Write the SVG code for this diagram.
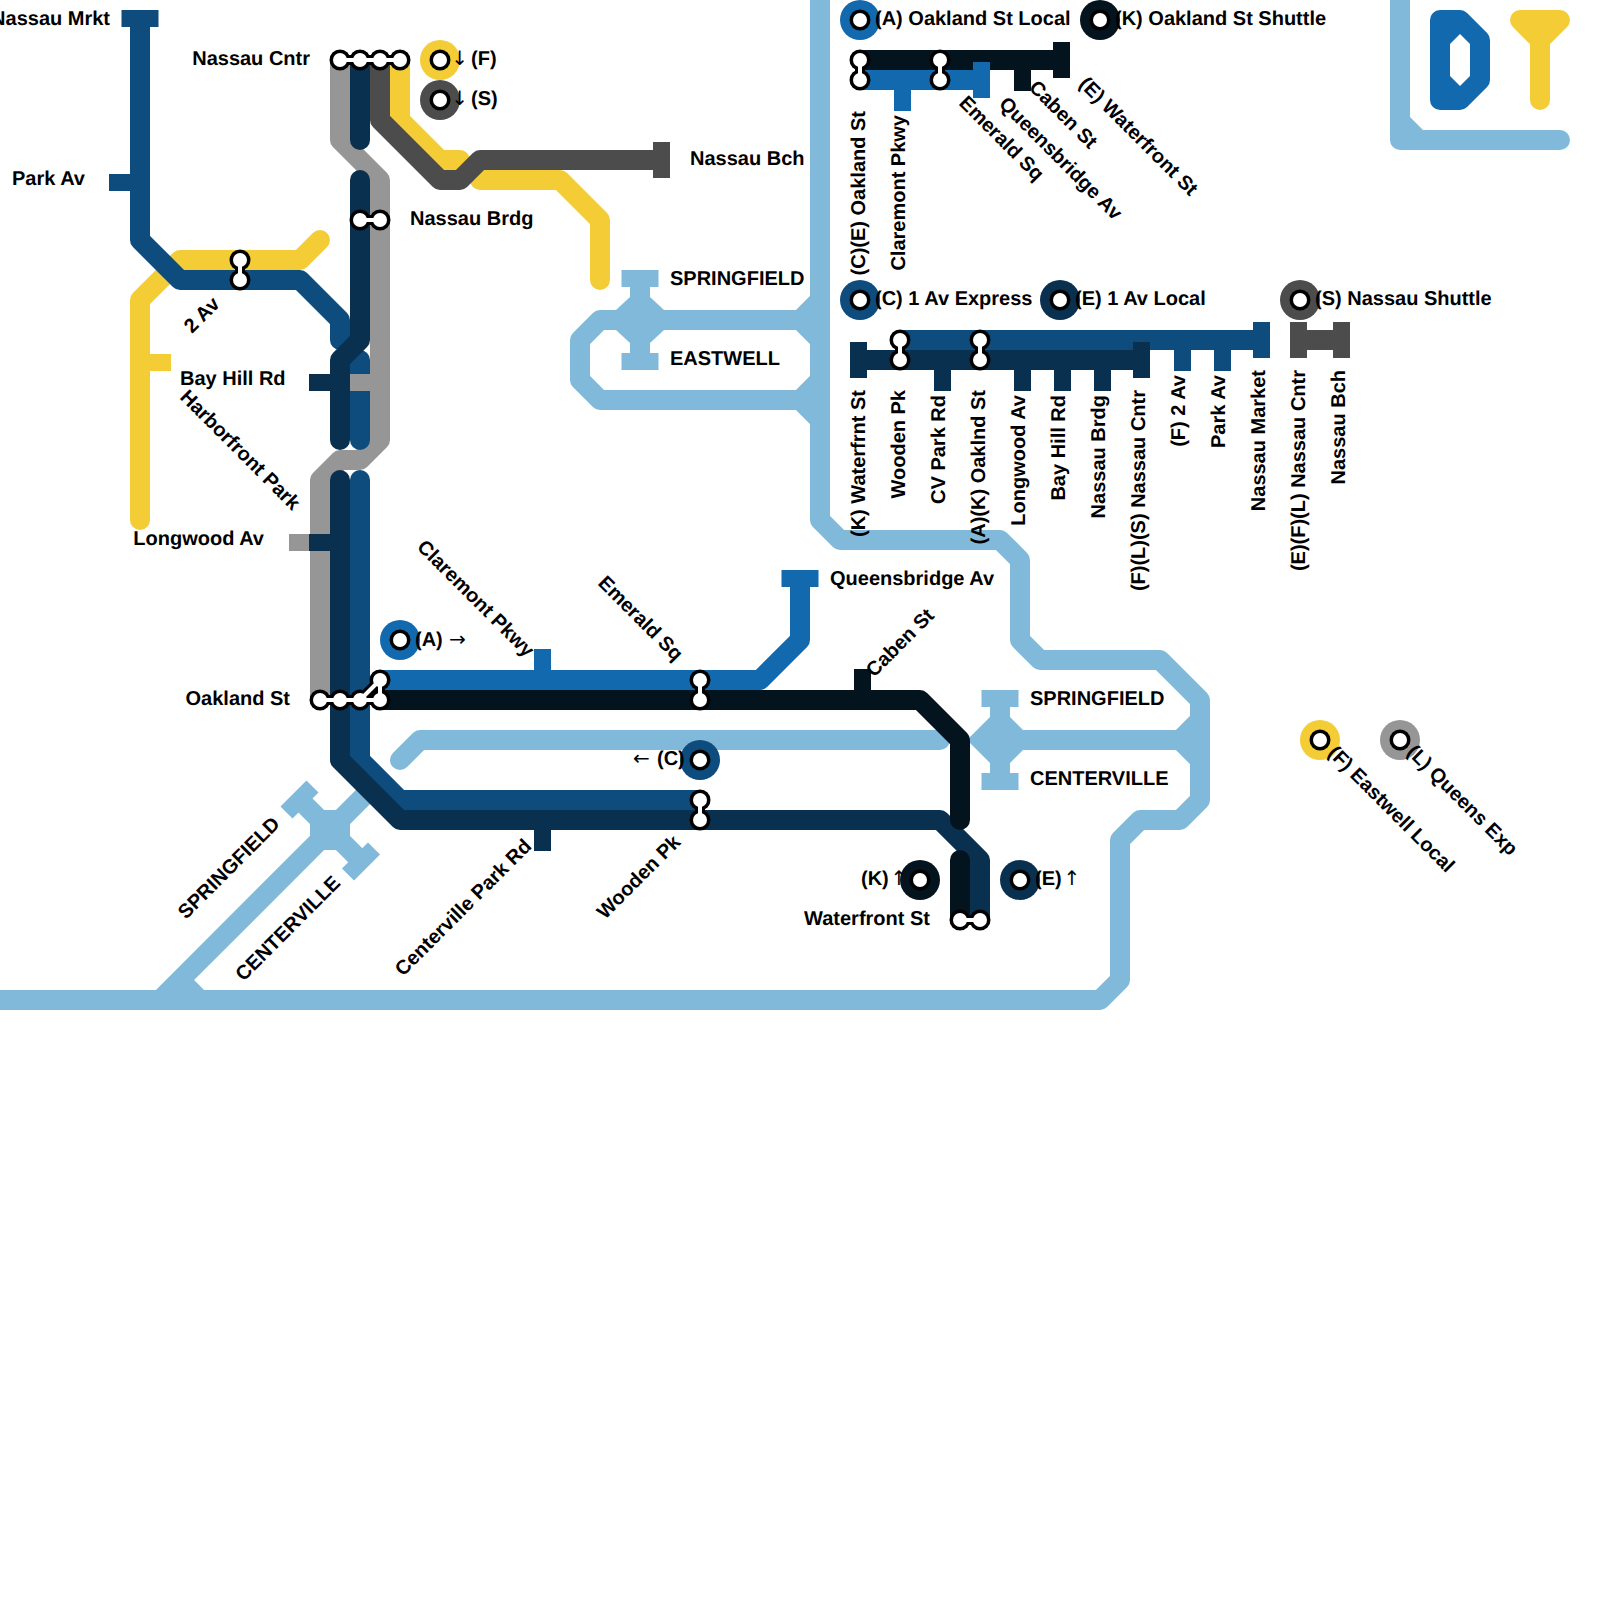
<svg xmlns="http://www.w3.org/2000/svg" width="1600" height="1600" viewBox="0 0 1600 1600">
<style>
text{font-family:"Liberation Sans",Arial,sans-serif;font-weight:700;font-size:20px;fill:#000;text-rendering:geometricPrecision}
.e{text-anchor:end}
.ar{font-family:"DejaVu Sans",sans-serif;font-weight:400}
.ln{fill:none;stroke-width:20;stroke-linecap:round;stroke-linejoin:round}
.tk{fill:none;stroke-width:17;stroke-linecap:butt}
.wa{stroke:#80b9da}.f{stroke:#f4cd36}.l{stroke:#969696}.s{stroke:#4c4c4c}.c{stroke:#0d4c7d}.ex{stroke:#0a3050}.a{stroke:#1369ad}.k{stroke:#04141f}
.wf{fill:#80b9da}
.o{fill:#000}.i{fill:#fff}
.ob{stroke:#000;stroke-width:10;fill:none;stroke-linejoin:round}
.ow{stroke:#fff;stroke-width:4;fill:none;stroke-linejoin:round}
</style>
<rect width="1600" height="1600" fill="#fff"/>
<g id="connectors">
 <g id="water">
  <path class="ln wa" d="M820 0V520L840 540H1000L1020 560V640L1040 660H1160L1200 700V800L1180 820H1140L1120 840V980L1100 1000H0"/>
  <path class="ln wa" d="M1000 740H1180L1200 720M1180 740L1200 760"/>
  <path class="ln wa" d="M640 320H600L580 340V380L600 400H800L820 380M800 400L820 420M640 320H800L820 300M800 320L820 340"/>
  <path class="ln wa" d="M400 760L420 740H940"/>
  <path class="ln wa" d="M370 790L180 980L160 1000M180 980L200 1000"/>
  <path class="tk wa" style="stroke-width:20" d="M1000 698V782M640 278V362M300 800L361 861"/>
  <path class="tk wa" d="M981.500 698.500H1018.500M981.500 781.500H1018.500M621.500 278.500H658.500M621.500 361.500H658.500M286.500 812.500L312.500 786.500M348 874.500L374 848.500"/>
  <polygon class="wf" points="990,717 1010,717 1023,730 1023,750 1010,763 990,763 967,740"/>
  <polygon class="wf" points="630,297 650,297 664,310 664,330 650,343 630,343 616,330 616,310"/>
  <polygon class="wf" points="310,823 324,810 336,810 350,823 350,837 336,850 324,850 310,837"/>
  <path class="ln wa" d="M1400 0V140H1560"/>
  <polygon class="wf" points="1410,117 1423,130 1410,130"/>
 </g>
 <g id="line-F">
  <path class="ln f" d="M140 520V300L180 260H300L320 240"/>
  <path class="tk f" d="M140 362.500H171"/>
  <path class="ln f" d="M400 60V120L440 160H460"/>
  <path class="ln f" d="M480 180H560L600 220V280"/>
 </g>
 <g id="line-L">
  <path class="ln l" d="M340 60V140L380 180V440L360 460H340L320 480V700"/>
  <path class="tk l" d="M289 542.500H320"/>
 </g>
 <g id="line-S">
  <path class="ln s" d="M380 60V120L440 180H460L480 160H660"/>
  <path class="tk s" d="M661.500 142V178"/>
  <path class="tk s" style="stroke-width:20" d="M1298 340H1342"/>
  <path class="tk s" d="M1298.500 322V358M1341.500 322V358"/>
 </g>
 <g id="line-C">
  <path class="ln c" d="M140 20V240L180 280H300L340 320V340"/>
  <path class="tk c" d="M121.500 18.500H158.500M109 182.500H140"/>
  <path class="ln c" d="M360 360V440"/>
  <path class="ln c" d="M360 480V760L400 800H700"/>
  <path class="ln c" d="M900 340H1260"/>
  <path class="tk c" d="M1182.500 340V371M1222.500 340V371M1261.500 322V358"/>
 </g>
 <path class="tk l" d="M349 382.500H380"/>
 <g id="line-E">
  <path class="ln ex" d="M360 60V140"/>
  <path class="ln ex" d="M360 180V340L340 360V440"/>
  <path class="ln ex" d="M340 480V760L400 820H940L980 860V920"/>
  <path class="tk ex" d="M309 382.500H340M309 542.500H340M542.500 820V851"/>
  <path class="ln ex" d="M860 360H1140"/>
  <path class="tk ex" d="M858.500 342V378M1141.500 342V378M942.500 360V391M1022.500 360V391M1062.500 360V391M1102.500 360V391"/>
 </g>
 <g id="line-A">
  <path class="ln a" d="M380 680H760L800 640V580"/>
  <path class="tk a" d="M781.500 578.500H818.500M542.500 680V649"/>
  <path class="ln a" d="M860 80H980"/>
  <path class="tk a" d="M902.500 80V111"/>
 </g>
 <g id="line-K">
  <path class="ln k" d="M380 700H920L960 740V820"/>
  <path class="ln k" d="M960 860V920"/>
  <path class="tk k" d="M862.500 700V669"/>
  <path class="ln k" d="M860 60H1060"/>
  <path class="tk k" d="M1061.500 42V78M1022.500 60V91"/>
 </g>
 <path class="tk a" d="M981.500 62V98"/>
 <g id="logo">
  <path d="M1440 20H1460L1480 40V80L1460 100H1440Z" fill="#1369ad" stroke="#1369ad" stroke-width="20" stroke-linejoin="round"/>
  <polygon points="1460,34 1470,44 1470,76 1460,86 1450,76 1450,44" fill="#fff"/>
  <path d="M1520 20H1560L1540 40Z" fill="#f4cd36" stroke="#f4cd36" stroke-width="20" stroke-linejoin="round"/>
  <path class="ln f" d="M1540 40V100"/>
 </g>
</g>
<g id="node-nassau-mrkt"><text class="e" x="110" y="24.500">Nassau Mrkt</text></g>
<g id="node-park-av"><text class="e" x="85" y="184.500">Park Av</text></g>
<g id="node-harborfront"><text transform="translate(179 398) rotate(45)">Harborfront Park</text></g>
<g id="node-nassau-cntr">
 <path class="ob" d="M340 60H400"/>
 <circle class="o" cx="340" cy="60" r="10.500"/><circle class="o" cx="360" cy="60" r="10.500"/><circle class="o" cx="380" cy="60" r="10.500"/><circle class="o" cx="400" cy="60" r="10.500"/>
 <path class="ow" d="M340 60H400"/>
 <circle class="i" cx="340" cy="60" r="7"/><circle class="i" cx="360" cy="60" r="7"/><circle class="i" cx="380" cy="60" r="7"/><circle class="i" cx="400" cy="60" r="7"/>
 <text class="e" x="310" y="64.500">Nassau Cntr</text>
</g>
<g id="node-nassau-brdg">
 <path class="ob" d="M360 220H380"/>
 <circle class="o" cx="360" cy="220" r="10.500"/><circle class="o" cx="380" cy="220" r="10.500"/>
 <path class="ow" d="M360 220H380"/>
 <circle class="i" cx="360" cy="220" r="7"/><circle class="i" cx="380" cy="220" r="7"/>
 <text x="410" y="224.500">Nassau Brdg</text>
</g>
<g id="node-2av">
 <path class="ob" d="M240 260V280"/>
 <circle class="o" cx="240" cy="260" r="10.500"/><circle class="o" cx="240" cy="280" r="10.500"/>
 <path class="ow" d="M240 260V280"/>
 <circle class="i" cx="240" cy="260" r="7"/><circle class="i" cx="240" cy="280" r="7"/>
 <text transform="translate(192 334) rotate(-45)">2 Av</text>
</g>
<g id="node-bay-hill"><text x="180" y="384.500">Bay Hill Rd</text></g>
<g id="node-longwood"><text class="e" x="264" y="544.500">Longwood Av</text></g>
<g id="node-nassau-bch"><text x="690" y="164.500">Nassau Bch</text></g>
<g id="node-dest-north">
 <text x="670" y="284.500">SPRINGFIELD</text>
 <text x="670" y="364.500">EASTWELL</text>
</g>
<g id="node-term-F">
 <circle cx="440" cy="60" r="20" fill="#f4cd36"/><circle class="o" cx="440" cy="60" r="10.500"/><circle class="i" cx="440" cy="60" r="7"/>
 <text y="64.500"><tspan class="ar" x="451.300">↓</tspan><tspan x="471">(F)</tspan></text>
</g>
<g id="node-term-S">
 <circle cx="440" cy="100" r="20" fill="#4c4c4c"/><circle class="o" cx="440" cy="100" r="10.500"/><circle class="i" cx="440" cy="100" r="7"/>
 <text y="104.500"><tspan class="ar" x="451.300">↓</tspan><tspan x="471">(S)</tspan></text>
</g>
<g id="node-term-A">
 <circle cx="400" cy="640" r="20" fill="#1369ad"/><circle class="o" cx="400" cy="640" r="10.500"/><circle class="i" cx="400" cy="640" r="7"/>
 <text y="645.500"><tspan x="415">(A)</tspan><tspan class="ar" x="449.100">→</tspan></text>
</g>
<g id="node-term-C">
 <circle cx="700" cy="760" r="20" fill="#0d4c7d"/><circle class="o" cx="700" cy="760" r="10.500"/><circle class="i" cx="700" cy="760" r="7"/>
 <text y="764.500"><tspan class="ar" x="633.100">←</tspan><tspan x="657">(C)</tspan></text>
</g>
<g id="node-term-K">
 <circle cx="920" cy="880" r="20" fill="#04141f"/><circle class="o" cx="920" cy="880" r="10.500"/><circle class="i" cx="920" cy="880" r="7"/>
 <text y="884.500"><tspan x="861">(K)</tspan><tspan class="ar" x="890.600">↑</tspan></text>
</g>
<g id="node-term-E">
 <circle cx="1020" cy="880" r="20" fill="#0a3050"/><circle class="o" cx="1020" cy="880" r="10.500"/><circle class="i" cx="1020" cy="880" r="7"/>
 <text y="884.500"><tspan x="1035">(E)</tspan><tspan class="ar" x="1063.600">↑</tspan></text>
</g>
<g id="node-oakland">
 <path class="ob" d="M320 700H380V680L360 700"/>
 <circle class="o" cx="320" cy="700" r="10.500"/><circle class="o" cx="340" cy="700" r="10.500"/><circle class="o" cx="360" cy="700" r="10.500"/><circle class="o" cx="380" cy="700" r="10.500"/><circle class="o" cx="380" cy="680" r="10.500"/>
 <path class="ow" d="M320 700H380V680L360 700"/>
 <circle class="i" cx="320" cy="700" r="7"/><circle class="i" cx="340" cy="700" r="7"/><circle class="i" cx="360" cy="700" r="7"/><circle class="i" cx="380" cy="700" r="7"/><circle class="i" cx="380" cy="680" r="7"/>
 <text class="e" x="290" y="704.500">Oakland St</text>
</g>
<g id="node-emerald">
 <path class="ob" d="M700 680V700"/>
 <circle class="o" cx="700" cy="680" r="10.500"/><circle class="o" cx="700" cy="700" r="10.500"/>
 <path class="ow" d="M700 680V700"/>
 <circle class="i" cx="700" cy="680" r="7"/><circle class="i" cx="700" cy="700" r="7"/>
 <text transform="translate(597 584) rotate(45)">Emerald Sq</text>
</g>
<g id="node-wooden">
 <path class="ob" d="M700 800V820"/>
 <circle class="o" cx="700" cy="800" r="10.500"/><circle class="o" cx="700" cy="820" r="10.500"/>
 <path class="ow" d="M700 800V820"/>
 <circle class="i" cx="700" cy="800" r="7"/><circle class="i" cx="700" cy="820" r="7"/>
 <text transform="translate(605 920) rotate(-45)">Wooden Pk</text>
</g>
<g id="node-waterfront">
 <path class="ob" d="M960 920H980"/>
 <circle class="o" cx="960" cy="920" r="10.500"/><circle class="o" cx="980" cy="920" r="10.500"/>
 <path class="ow" d="M960 920H980"/>
 <circle class="i" cx="960" cy="920" r="7"/><circle class="i" cx="980" cy="920" r="7"/>
 <text class="e" x="930" y="924.500">Waterfront St</text>
</g>
<g id="node-claremont"><text transform="translate(416 548) rotate(45)">Claremont Pkwy</text></g>
<g id="node-centerville-pk"><text transform="translate(403 977) rotate(-45)">Centerville Park Rd</text></g>
<g id="node-queensbridge"><text x="830" y="584.500">Queensbridge Av</text></g>
<g id="node-caben"><text transform="translate(874 678) rotate(-45)">Caben St</text></g>
<g id="node-dest-east">
 <text x="1030" y="704.500">SPRINGFIELD</text>
 <text x="1030" y="784.500">CENTERVILLE</text>
</g>
<g id="node-dest-south">
 <text transform="translate(186 920) rotate(-45)">SPRINGFIELD</text>
 <text transform="translate(243.500 982) rotate(-45)">CENTERVILLE</text>
</g>
<g id="legend-AK">
 <circle cx="860" cy="20" r="20" fill="#1369ad"/><circle class="o" cx="860" cy="20" r="10.500"/><circle class="i" cx="860" cy="20" r="7"/>
 <text x="875" y="24.500">(A) Oakland St Local</text>
 <circle cx="1100" cy="20" r="20" fill="#04141f"/><circle class="o" cx="1100" cy="20" r="10.500"/><circle class="i" cx="1100" cy="20" r="7"/>
 <text x="1115" y="24.500">(K) Oakland St Shuttle</text>
 <path class="ob" d="M860 60V80M940 60V80"/>
 <circle class="o" cx="860" cy="60" r="10.500"/><circle class="o" cx="860" cy="80" r="10.500"/><circle class="o" cx="940" cy="60" r="10.500"/><circle class="o" cx="940" cy="80" r="10.500"/>
 <path class="ow" d="M860 60V80M940 60V80"/>
 <circle class="i" cx="860" cy="60" r="7"/><circle class="i" cx="860" cy="80" r="7"/><circle class="i" cx="940" cy="60" r="7"/><circle class="i" cx="940" cy="80" r="7"/>
 <text class="e" transform="translate(865 111) rotate(-90)">(C)(E) Oakland St</text>
 <text class="e" transform="translate(905 115) rotate(-90)">Claremont Pkwy</text>
 <text transform="translate(958 104) rotate(45)">Emerald Sq</text>
 <text transform="translate(998 105) rotate(45)">Queensbridge Av</text>
 <text transform="translate(1028 88.500) rotate(45)">Caben St</text>
 <text transform="translate(1078 85) rotate(45)">(E) Waterfront St</text>
</g>
<g id="legend-CE">
 <circle cx="860" cy="300" r="20" fill="#0d4c7d"/><circle class="o" cx="860" cy="300" r="10.500"/><circle class="i" cx="860" cy="300" r="7"/>
 <text x="875" y="304.500">(C) 1 Av Express</text>
 <circle cx="1060" cy="300" r="20" fill="#0a3050"/><circle class="o" cx="1060" cy="300" r="10.500"/><circle class="i" cx="1060" cy="300" r="7"/>
 <text x="1075" y="304.500">(E) 1 Av Local</text>
 <path class="ob" d="M900 340V360M980 340V360"/>
 <circle class="o" cx="900" cy="340" r="10.500"/><circle class="o" cx="900" cy="360" r="10.500"/><circle class="o" cx="980" cy="340" r="10.500"/><circle class="o" cx="980" cy="360" r="10.500"/>
 <path class="ow" d="M900 340V360M980 340V360"/>
 <circle class="i" cx="900" cy="340" r="7"/><circle class="i" cx="900" cy="360" r="7"/><circle class="i" cx="980" cy="340" r="7"/><circle class="i" cx="980" cy="360" r="7"/>
 <text class="e" transform="translate(865 390) rotate(-90)">(K) Waterfrnt St</text>
 <text class="e" transform="translate(905 390) rotate(-90)">Wooden Pk</text>
 <text class="e" transform="translate(945 395) rotate(-90)">CV Park Rd</text>
 <text class="e" transform="translate(985 390) rotate(-90)">(A)(K) Oaklnd St</text>
 <text class="e" transform="translate(1025 395) rotate(-90)">Longwood Av</text>
 <text class="e" transform="translate(1065 395) rotate(-90)">Bay Hill Rd</text>
 <text class="e" transform="translate(1105 395) rotate(-90)">Nassau Brdg</text>
 <text class="e" transform="translate(1145 390) rotate(-90)">(F)(L)(S) Nassau Cntr</text>
 <text class="e" transform="translate(1185 375) rotate(-90)">(F) 2 Av</text>
 <text class="e" transform="translate(1225 375) rotate(-90)">Park Av</text>
 <text class="e" transform="translate(1265 370) rotate(-90)">Nassau Market</text>
</g>
<g id="legend-S">
 <circle cx="1300" cy="300" r="20" fill="#4c4c4c"/><circle class="o" cx="1300" cy="300" r="10.500"/><circle class="i" cx="1300" cy="300" r="7"/>
 <text x="1315" y="304.500">(S) Nassau Shuttle</text>
 <text class="e" transform="translate(1305 370) rotate(-90)">(E)(F)(L) Nassau Cntr</text>
 <text class="e" transform="translate(1345 370) rotate(-90)">Nassau Bch</text>
</g>
<g id="legend-F">
 <circle cx="1320" cy="740" r="20" fill="#f4cd36"/><circle class="o" cx="1320" cy="740" r="10.500"/><circle class="i" cx="1320" cy="740" r="7"/>
 <text transform="translate(1327 754) rotate(45)">(F) Eastwell Local</text>
</g>
<g id="legend-L">
 <circle cx="1400" cy="740" r="20" fill="#969696"/><circle class="o" cx="1400" cy="740" r="10.500"/><circle class="i" cx="1400" cy="740" r="7"/>
 <text transform="translate(1406 753) rotate(45)">(L) Queens Exp</text>
</g>
</svg>
